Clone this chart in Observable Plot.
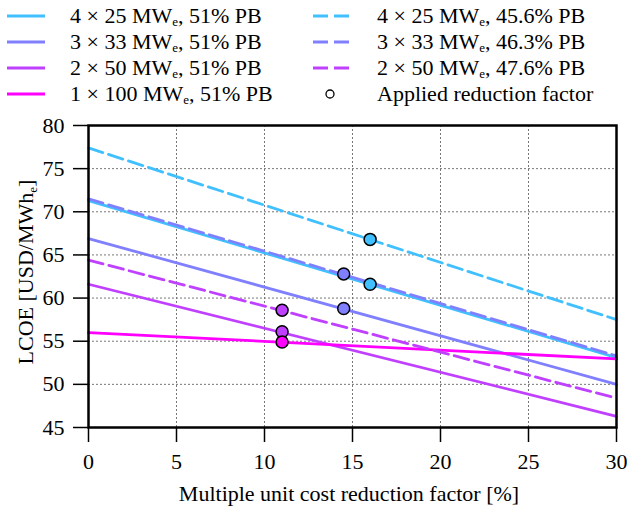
<!DOCTYPE html>
<html>
<head>
<meta charset="utf-8">
<script src="https://cdn.jsdelivr.net/npm/d3@7"></script>
<script src="https://cdn.jsdelivr.net/npm/@observablehq/plot@0.6"></script>
<style>
  body { margin: 0; background: white; }
  #chart { width: 627px; height: 510px; font-family: "Liberation Serif", "Times New Roman", serif; }
  svg { display: block; }
  svg text { font-family: "Liberation Serif", "Times New Roman", serif; }
</style>
</head>
<body>
<div id="chart"></div>
<script>
// ---- data ----
const units = [4, 3, 2, 1, 4, 3, 2];
const unitMW = [25, 33, 50, 100, 25, 33, 50];
const pbLabels = ["51%", "51%", "51%", "51%", "45.6%", "46.3%", "47.6%"];
const isDashed = [false, false, false, false, true, true, true];
const seriesColors = ["#40c0ff", "#8080ff", "#c040ff", "#ff00ff", "#40c0ff", "#8080ff", "#c040ff"];
const reductionFactors = [0, 30];
const lcoeAt0 = [71.3, 66.9, 61.6, 56.0, 77.4, 71.5, 64.4];
const lcoeAt30 = [53.1, 50.0, 46.3, 52.95, 57.5, 53.3, 48.4];
const appliedFactor = [16, 14.5, 11, 11, 16, 14.5, 11];
const appliedLCOE = [61.6, 58.8, 56.1, 54.9, 66.8, 62.8, 58.6];
const xTicks = [0, 5, 10, 15, 20, 25, 30];
const yTicks = [45, 50, 55, 60, 65, 70, 75, 80];
const xLabel = "Multiple unit cost reduction factor [%]";
const yLabelMain = "LCOE [USD/MWh";
const yLabelSub = "e";
const legendPointLabel = "Applied reduction factor";

const FONT = "'Liberation Serif', 'Times New Roman', serif";
const FS = 22;
const SUB = 13;
const DASH = "15,6";

// ---- legend (SVG above the chart) ----
const legendH = 110;
const legend = d3.select("#chart").append("svg")
  .attr("width", 627).attr("height", legendH)
  .style("font-family", FONT).style("font-size", FS + "px");
const rowY = [16, 42, 68, 94];
units.forEach((u, i) => {
  const col = isDashed[i] ? 1 : 0;
  const row = isDashed[i] ? i - 4 : i;
  const y = rowY[row];
  const x0 = col === 0 ? 7 : 313;
  const x1 = col === 0 ? 45 : 351;
  const tx = col === 0 ? 70 : 377;
  legend.append("line")
    .attr("x1", x0).attr("x2", x1).attr("y1", y).attr("y2", y)
    .attr("stroke", seriesColors[i]).attr("stroke-width", 3)
    .attr("stroke-dasharray", isDashed[i] ? DASH : null);
  const t = legend.append("text").attr("x", tx).attr("y", y + 7);
  t.append("tspan").text(`${units[i]} × ${unitMW[i]} MW`);
  t.append("tspan").attr("font-size", SUB + "px").attr("dy", 3).text("e");
  t.append("tspan").attr("dy", -3).text(`, ${pbLabels[i]} PB`);
});
legend.append("circle").attr("cx", 330).attr("cy", rowY[3]).attr("r", 4)
  .attr("fill", "white").attr("stroke", "black").attr("stroke-width", 1.3);
legend.append("text").attr("x", 377).attr("y", rowY[3] + 7).text(legendPointLabel);

// ---- chart ----
const lineRows = [];
units.forEach((u, i) => {
  reductionFactors.forEach((f, j) => {
    lineRows.push({series: i, x: f, y: j === 0 ? lcoeAt0[i] : lcoeAt30[i]});
  });
});
const pointRows = units.map((u, i) => ({x: appliedFactor[i], y: appliedLCOE[i], color: seriesColors[i]}));

const lineMarks = units.map((u, i) =>
  Plot.line(lineRows.filter(d => d.series === i), {
    x: "x", y: "y", stroke: seriesColors[i], strokeWidth: 2.8,
    strokeDasharray: isDashed[i] ? DASH : null
  })
);

const plot = Plot.plot({
  width: 627,
  height: 510 - legendH,
  marginTop: 125 - legendH,
  marginLeft: 88,
  marginRight: 11,
  marginBottom: 83,
  style: {fontFamily: FONT, fontSize: FS + "px", color: "black", background: "white", overflow: "visible"},
  x: {domain: [0, 30]},
  y: {domain: [45, 80]},
  marks: [
    Plot.gridX(xTicks.slice(1, -1), {stroke: "#777", strokeOpacity: 1, strokeWidth: 1, strokeDasharray: "2,2"}),
    Plot.gridY(yTicks.slice(1, -1), {stroke: "#777", strokeOpacity: 1, strokeWidth: 1, strokeDasharray: "2,2"}),
    ...lineMarks,
    Plot.dot(pointRows, {x: "x", y: "y", fill: "color", stroke: "black", strokeWidth: 1.5, r: 6}),
    Plot.frame({stroke: "black", strokeWidth: 2.5}),
    Plot.axisX(xTicks, {tickSize: 15, tickPadding: 11, strokeWidth: 1.5, fontSize: FS, label: null}),
    Plot.axisY(yTicks, {tickSize: 15, tickPadding: 9, strokeWidth: 1.5, fontSize: FS, label: null})
  ]
});
document.getElementById("chart").appendChild(plot);

// axis labels
const svg = d3.select(plot);
svg.append("text")
  .attr("x", 349).attr("y", 501 - legendH)
  .attr("text-anchor", "middle")
  .attr("font-family", FONT).attr("font-size", FS + "px")
  .text(xLabel);
const yl = svg.append("text")
  .attr("transform", `translate(33, ${272 - legendH}) rotate(-90)`)
  .attr("text-anchor", "middle")
  .attr("font-family", FONT).attr("font-size", FS + "px");
yl.append("tspan").text(yLabelMain);
yl.append("tspan").attr("font-size", SUB + "px").attr("dy", 4).text(yLabelSub);
yl.append("tspan").attr("dy", -4).text("]");
</script>
</body>
</html>
